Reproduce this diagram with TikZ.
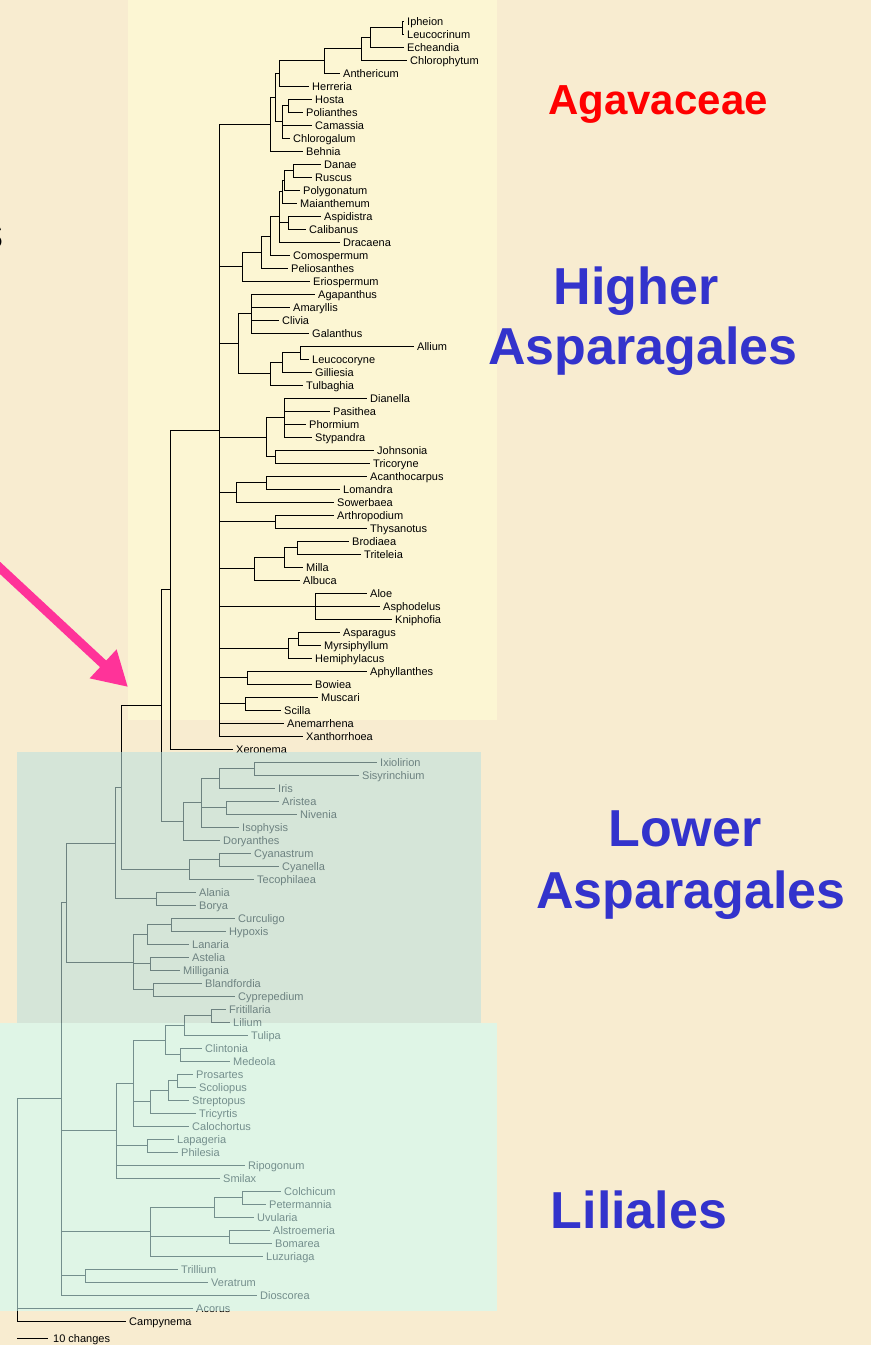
\documentclass[tikz,border=0pt]{standalone}
\usepackage{fontspec}
\setmainfont{Liberation Sans}
\usetikzlibrary{arrows.meta}

\definecolor{parchment}{RGB}{248,236,208}
\definecolor{paleyellow}{RGB}{252,246,211}
\definecolor{lowerveil}{RGB}{188,224,222}
\definecolor{mintveil}{RGB}{205,252,248}
\definecolor{agavred}{RGB}{255,0,0}
\definecolor{titleblue}{RGB}{51,51,204}
\definecolor{arrowpink}{RGB}{255,51,153}

\tikzset{
  leaf/.style={anchor=west, inner xsep=3pt, inner ysep=0pt, text height=8pt, text depth=0pt,
    font=\fontsize{11}{13}\selectfont},
  branch/.style={line width=0.7pt},
  title/.style={anchor=base, inner sep=0pt, font=\bfseries\fontsize{52}{60}\selectfont, text=titleblue}
}

\begin{document}
\begin{tikzpicture}[x=1pt, y=-1pt]
    \useasboundingbox (0,0) rectangle (871,1345);
    \clip (0,0) rectangle (871,1345);
    % background panels
    \fill[parchment] (0,0) rectangle (871,1345);
    \fill[paleyellow] (128,0) rectangle (497,720);

    % tree: one row per taxon, x in pt
    \begin{scope}[y=-13pt, yshift=-8pt]
    \foreach \name/\x/\row in {Ipheion/404/1, Leucocrinum/404/2, Echeandia/404/3, Chlorophytum/407/4,
        Anthericum/340/5, Herreria/309/6, Hosta/312/7, Polianthes/303/8, Camassia/312/9,
        Chlorogalum/290/10, Behnia/303/11, Danae/321/12, Ruscus/312/13, Polygonatum/300/14,
        Maianthemum/297/15, Aspidistra/321/16, Calibanus/306/17, Dracaena/340/18,
        Comospermum/290/19, Peliosanthes/288/20, Eriospermum/310/21, Agapanthus/315/22,
        Amaryllis/290/23, Clivia/279/24, Galanthus/309/25, Allium/414/26, Leucocoryne/309/27,
        Gilliesia/312/28, Tulbaghia/303/29, Dianella/367/30, Pasithea/330/31, Phormium/306/32,
        Stypandra/312/33, Johnsonia/374/34, Tricoryne/370/35, Acanthocarpus/367/36,
        Lomandra/340/37, Sowerbaea/334/38, Arthropodium/334/39, Thysanotus/367/40,
        Brodiaea/349/41, Triteleia/361/42, Milla/303/43, Albuca/300/44, Aloe/367/45,
        Asphodelus/380/46, Kniphofia/392/47, Asparagus/340/48, Myrsiphyllum/321/49,
        Hemiphylacus/312/50, Aphyllanthes/367/51, Bowiea/312/52, Muscari/318/53, Scilla/281/54,
        Anemarrhena/284/55, Xanthorrhoea/303/56, Xeronema/233/57, Ixiolirion/377/58,
        Sisyrinchium/359/59, Iris/275/60, Aristea/279/61, Nivenia/297/62, Isophysis/239/63,
        Doryanthes/220/64, Cyanastrum/251/65, Cyanella/279/66, Tecophilaea/254/67,
        Alania/196/68, Borya/196/69, Curculigo/235/70, Hypoxis/226/71, Lanaria/189/72,
        Astelia/189/73, Milligania/180/74, Blandfordia/202/75, Cyprepedium/235/76,
        Fritillaria/226/77, Lilium/230/78, Tulipa/248/79, Clintonia/202/80, Medeola/230/81,
        Prosartes/193/82, Scoliopus/196/83, Streptopus/189/84, Tricyrtis/196/85,
        Calochortus/189/86, Lapageria/174/87, Philesia/178/88, Ripogonum/245/89, Smilax/220/90,
        Colchicum/281/91, Petermannia/266/92, Uvularia/254/93, Alstroemeria/270/94,
        Bomarea/272/95, Luzuriaga/263/96, Trillium/178/97, Veratrum/208/98, Dioscorea/257/99,
        Acorus/193/100, Campynema/126/101} {
        \node[leaf] (\name) at (\x,\row) {\name};
    }
    \foreach \nm/\x/\row in {ag1/402/1.5, ag2/370/2.25, ag3/361/3.125, ag4/324/4.0625,
        ag5/279/5.03125, ag6/288/7.5, ag7/282/8.75, ag8/275/6.890625, ag9/270/8.9453,
        ru1/293/12.5, ru2/284/13.25, ru3/282/14.125, ru4/288/16.5, ru5/279/16.0625,
        ru6/270/17.53125, ru7/261/18.765625, ru8/242/19.8828,
        am1/251/23.5, am2/300/26.5, am3/282/27.25, am4/270/28.125, am5/238/25.8125,
        he1/284/31.5, he2/275/34.5, he3/266/33, lo1/266/36.5, lo2/236/37.25, ar1/275/39.5,
        br1/297/41.5, br2/284/42.25, br3/254/43.125, as1/315/46, sp1/298/48.5, sp2/288/49.25,
        ap1/247/51.5, mu1/245/53.5, hi1/219.5/32.4727, hi2/170.7/44.7363,
        ir1/254/58.5, ir2/219/59.25, ir3/226/61.5, ir4/201/61.125, ir5/183/62.5625,
        lw1/161.7/53.6494, te1/219/65.5, te2/189/66.25, lw2/121.7/59.9497, bo1/156/68.5,
        lw3/115.7/64.2249, hy1/171/70.5, hy2/147/71.25, hy3/150/73.5, hy4/153/75.5,
        hy5/133/73.375, lw4/66.7/68.8,
        li1/211/77.5, li2/184/78.25, li3/180/80.5, li4/165/79.375, li5/177/82.5,
        li6/168/83.25, li7/150/84.125, li8/133/82.6875, li9/147/87.5, li10/116/86.34375,
        co1/242/91.5, co2/214/92.25, co3/229/94.5, co4/150/94.125, me1/85/97.5,
        ll1/61/83.9, root/17.3/92.45} {
        \coordinate (\nm) at (\x,\row);
    }
    \foreach \up/\kid in {ag1/Ipheion, ag1/Leucocrinum, ag2/ag1, ag2/Echeandia, ag3/ag2,
        ag3/Chlorophytum, ag4/ag3, ag4/Anthericum, ag5/ag4, ag5/Herreria, ag6/Hosta,
        ag6/Polianthes, ag7/ag6, ag7/Camassia, ag7/Chlorogalum, ag8/ag5, ag8/ag7, ag9/ag8,
        ag9/Behnia,
        ru1/Danae, ru1/Ruscus, ru2/ru1, ru2/Polygonatum, ru3/ru2, ru3/Maianthemum,
        ru4/Aspidistra, ru4/Calibanus, ru5/ru3, ru5/ru4, ru5/Dracaena, ru6/ru5,
        ru6/Comospermum, ru7/ru6, ru7/Peliosanthes, ru8/ru7, ru8/Eriospermum,
        am1/Agapanthus, am1/Amaryllis, am1/Clivia, am1/Galanthus, am2/Allium,
        am2/Leucocoryne, am3/am2, am3/Gilliesia, am4/am3, am4/Tulbaghia, am5/am1, am5/am4,
        he1/Dianella, he1/Pasithea, he1/Phormium, he1/Stypandra, he2/Johnsonia,
        he2/Tricoryne, he3/he1, he3/he2, lo1/Acanthocarpus, lo1/Lomandra, lo2/lo1,
        lo2/Sowerbaea, ar1/Arthropodium, ar1/Thysanotus, br1/Brodiaea, br1/Triteleia,
        br2/br1, br2/Milla, br3/br2, br3/Albuca, as1/Aloe, as1/Asphodelus, as1/Kniphofia,
        sp1/Asparagus, sp1/Myrsiphyllum, sp2/sp1, sp2/Hemiphylacus, ap1/Aphyllanthes,
        ap1/Bowiea, mu1/Muscari, mu1/Scilla,
        hi1/ag9, hi1/ru8, hi1/am5, hi1/he3, hi1/lo2, hi1/ar1, hi1/br3, hi1/as1, hi1/sp2,
        hi1/ap1, hi1/mu1, hi1/Anemarrhena, hi1/Xanthorrhoea, hi2/hi1, hi2/Xeronema,
        ir1/Ixiolirion, ir1/Sisyrinchium, ir2/ir1, ir2/Iris, ir3/Aristea, ir3/Nivenia,
        ir4/ir2, ir4/ir3, ir4/Isophysis, ir5/ir4, ir5/Doryanthes, lw1/hi2, lw1/ir5,
        te1/Cyanastrum, te1/Cyanella, te2/te1, te2/Tecophilaea, lw2/lw1, lw2/te2,
        bo1/Alania, bo1/Borya, lw3/lw2, lw3/bo1,
        hy1/Curculigo, hy1/Hypoxis, hy2/hy1, hy2/Lanaria, hy3/Astelia, hy3/Milligania,
        hy4/Blandfordia, hy4/Cyprepedium, hy5/hy2, hy5/hy3, hy5/hy4, lw4/lw3, lw4/hy5,
        li1/Fritillaria, li1/Lilium, li2/li1, li2/Tulipa, li3/Clintonia, li3/Medeola,
        li4/li2, li4/li3, li5/Prosartes, li5/Scoliopus, li6/li5, li6/Streptopus, li7/li6,
        li7/Tricyrtis, li8/li4, li8/li7, li8/Calochortus, li9/Lapageria, li9/Philesia,
        li10/li8, li10/li9, li10/Ripogonum, li10/Smilax,
        co1/Colchicum, co1/Petermannia, co2/co1, co2/Uvularia, co3/Alstroemeria,
        co3/Bomarea, co4/co2, co4/co3, co4/Luzuriaga, me1/Trillium, me1/Veratrum,
        ll1/lw4, ll1/li10, ll1/co4, ll1/me1, ll1/Dioscorea,
        root/ll1, root/Acorus, root/Campynema} {
        \draw[branch] (\up) |- (\kid);
    }
    \end{scope}

    % scale bar
    \coordinate (barL) at (17,1338);
    \coordinate (barR) at (48,1338);
    \draw[branch] (barL) -- (barR);
    \node[leaf, inner xsep=5pt] (barlabel) at (barR) {10 changes};

    % translucent panels over the lower part of the tree
    \fill[lowerveil, fill opacity=0.58] (17,752) rectangle (481,1023);
    \fill[mintveil, fill opacity=0.57] (0,1023) rectangle (497,1311);

    % group titles
    \node[title, text=agavred, font=\bfseries\fontsize{42}{50}\selectfont] (agav) at (658,114) {Agavaceae};
    \node[title] (higher) at (636,304) {Higher};
    \node[title] (hasp) at (643,364) {Asparagales};
    \node[title] (lower) at (685,846) {Lower};
    \node[title] (lasp) at (691,908) {Asparagales};
    \node[title] (lili) at (639,1228) {Liliales};

    % cut-off letter at the left edge
    \node[anchor=base east, inner sep=0pt, font=\fontsize{44}{50}\selectfont] (cutoff) at (4,248) {s};

    % pink pointer
    \coordinate (arrowtail) at (-30,540);
    \coordinate (arrowtip) at (128,687);
    \draw[arrowpink, line width=9pt, -{Triangle[length=34pt, width=37pt]}] (arrowtail) -- (arrowtip);
\end{tikzpicture}
\end{document}
